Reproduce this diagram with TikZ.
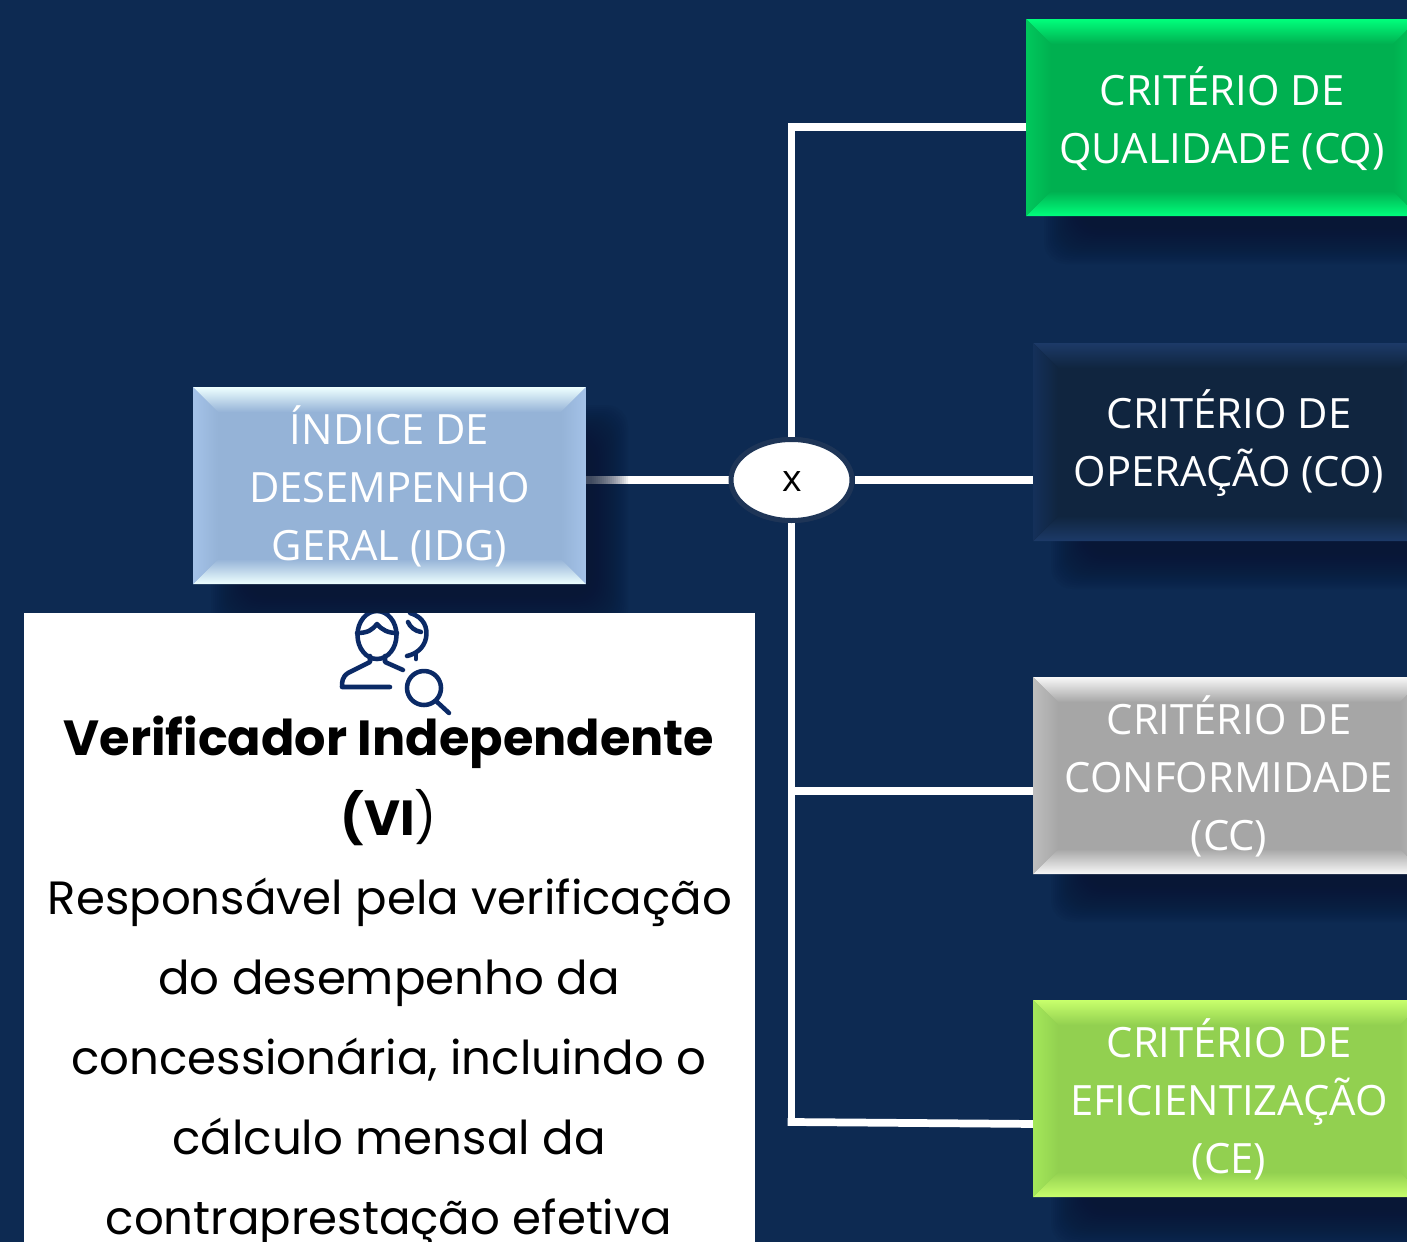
\documentclass[tikz,border=0pt]{standalone}
\usepackage{fontspec}
\setmainfont{Open Sans}
\newfontfamily\panelfont{Poppins}
\usetikzlibrary{calc,fit,shapes.geometric}
\definecolor{bgnavy}{HTML}{0D2A52}
\definecolor{shadowc}{HTML}{081734}
\definecolor{iconc}{HTML}{0B2A66}
\definecolor{ringc}{HTML}{1E3557}
\definecolor{bluebase}{HTML}{95B3D7}\definecolor{bluehi}{HTML}{EEFFFF}\definecolor{blueside}{HTML}{A4C2E8}
\definecolor{greenbase}{HTML}{00B050}\definecolor{greenhi}{HTML}{00FF7C}\definecolor{greenside}{HTML}{00C85C}
\definecolor{navybase}{HTML}{10253F}\definecolor{navyhi}{HTML}{1C3A68}\definecolor{navyside}{HTML}{14305A}
\definecolor{graybase}{HTML}{A6A6A6}\definecolor{grayhi}{HTML}{F8F8F8}\definecolor{grayside}{HTML}{BEBEBE}
\definecolor{limebase}{HTML}{92D050}\definecolor{limehi}{HTML}{C8FF6C}\definecolor{limeside}{HTML}{A4E85A}
\tikzset{
  boxarea/.style={inner sep=0pt},
  boxtext/.style={inner sep=0pt,align=center,text=white,font=\fontsize{31.3}{43.5}\selectfont},
  link/.style={draw=white,line width=5.8pt},
  panelhead/.style={font=\panelfont\fontsize{37}{60}\selectfont,text=black,anchor=base,inner sep=0pt},
  panelbody/.style={font=\panelfont\fontsize{35}{60}\selectfont,text=black,anchor=base,inner sep=0pt},
  iconline/.style={draw=iconc,line width=3.4pt,line cap=round,line join=round},
  mult/.style={ellipse,fill=white,draw=ringc,line width=3.75pt,minimum width=90.75pt,minimum height=60.75pt,inner sep=0pt,text=black}
}
% name x0 y0 x1 y1 colour-prefix text
\newcommand\bevelbox[7]{%
  \foreach \r in {36,34,...,0}{
    \fill[shadowc,opacity=.07,rounded corners=16pt]
      ({#2+54-\r},{#3+54-\r}) rectangle ({#4+6+\r},{#5+12+\r});
  }
  \fill[#6base] (#2,#3) rectangle (#4,#5);
  \begin{scope}
    \clip (#2,#3) -- (#4,#3) -- ({#4-25},{#3+25}) -- ({#2+25},{#3+25}) -- cycle;
    \shade[top color=#6hi,middle color=#6hi!55!#6base,bottom color=#6base] (#2,#3) rectangle (#4,{#3+25});
  \end{scope}
  \begin{scope}
    \clip (#2,#5) -- (#4,#5) -- ({#4-25},{#5-25}) -- ({#2+25},{#5-25}) -- cycle;
    \shade[top color=#6base,middle color=#6hi!55!#6base,bottom color=#6hi] (#2,{#5-25}) rectangle (#4,#5);
  \end{scope}
  \begin{scope}
    \clip (#2,#3) -- ({#2+25},{#3+25}) -- ({#2+25},{#5-25}) -- (#2,#5) -- cycle;
    \shade[left color=#6side,right color=#6base] (#2,#3) rectangle ({#2+25},#5);
  \end{scope}
  \begin{scope}
    \clip (#4,#3) -- ({#4-25},{#3+25}) -- ({#4-25},{#5-25}) -- (#4,#5) -- cycle;
    \shade[left color=#6base,right color=#6side] ({#4-25},#3) rectangle (#4,#5);
  \end{scope}
  \node[boxarea,fit={(#2,#3)(#4,#5)}] (#1) {};
  \node[boxtext] (#1text) at ($(#1.center)+(0,1)$) {#7};
}
\begin{document}
\begin{tikzpicture}[x=0.75pt,y=-0.75pt]
\useasboundingbox (0,0) rectangle (1407,1242);
\clip (0,0) rectangle (1407,1242);
\fill[bgnavy] (0,0) rectangle (1407,1242);

% multiplication node and junction points
\node[mult] (x) at (791.5,480) {};
\coordinate (jq) at (791.5,127);
\coordinate (jc) at (791.5,791);
\coordinate (je) at (791.5,1122);

\coordinate (idgE) at (586,480);
\coordinate (cqW) at (1030,127);
\coordinate (coW) at (1037,480);
\coordinate (ccW) at (1037,791);
\coordinate (ceW) at (1037,1124);

% connectors
\draw[link,line cap=rect] (x.north) -- (jq) -- (cqW);
\draw[link] (x.south) -- (je);
\draw[link] (jc) -- (ccW);
\draw[link,line cap=rect] (je) -- (ceW);
\draw[link] (idgE) -- (x.west);
\draw[link] (x.east) -- (coW);
\node[mult] (xmark) at (x) {};
\node[font=\fontsize{28}{30}\selectfont,text=black,inner sep=0pt] (xlabel) at (792,482) {x};

% boxes
\bevelbox{cq}{1026}{19}{1418}{216}{green}{CRITÉRIO DE\\QUALIDADE (CQ)}
\bevelbox{co}{1033}{343}{1425}{541}{navy}{CRITÉRIO DE\\OPERAÇÃO (CO)}
\bevelbox{cc}{1033}{677}{1425}{874}{gray}{CRITÉRIO DE\\CONFORMIDADE\\(CC)}
\bevelbox{ce}{1033}{1000}{1425}{1197}{lime}{CRITÉRIO DE\\EFICIENTIZAÇÃO\\(CE)}
\bevelbox{idg}{193}{387}{586}{584}{blue}{ÍNDICE DE\\DESEMPENHO\\GERAL (IDG)}

% white panel
\fill[white] (24,613) rectangle (755,1242);

% icon
\begin{scope}
  \clip (24,613) rectangle (755,1242);
  \draw[iconline] (377,635) ellipse [x radius=19.5,y radius=24];
  \draw[iconline] (357,633) .. controls (368,633) and (372,630) .. (377,624) .. controls (382,630) and (388,633) .. (397,633);
  \draw[iconline] (370,656) -- (370,662) -- (348,673) .. controls (342,677) and (342,682) .. (342,687) -- (390,687);
  \draw[iconline] (385,656) -- (385,662) -- (403,670);
  \draw[iconline] (410,613) .. controls (424,617) and (428,628) .. (426,638) .. controls (424,648) and (416,654) .. (407,656);
  \draw[iconline] (416,654) -- (416,659);
  \draw[iconline] (408,622) .. controls (410,627) and (415,631) .. (421,632);
  \draw[iconline] (424,688) circle [radius=17];
  \draw[iconline] (436,701) -- (449,713);
\end{scope}

% panel text
\node[panelhead] (vi1) at (389,755) {\textbf{Verificador Independente}};
\node[panelhead] (vi2) at (389,835) {\textbf{(VI})};
\node[panelbody] (r1) at (390,914) {Responsável pela verificação};
\node[panelbody] (r2) at (389,994) {do desempenho da};
\node[panelbody] (r3) at (389,1074) {concessionária, incluindo o};
\node[panelbody] (r4) at (389,1154) {cálculo mensal da};
\node[panelbody] (r5) at (389,1234) {contraprestação efetiva};
\end{tikzpicture}
\end{document}
